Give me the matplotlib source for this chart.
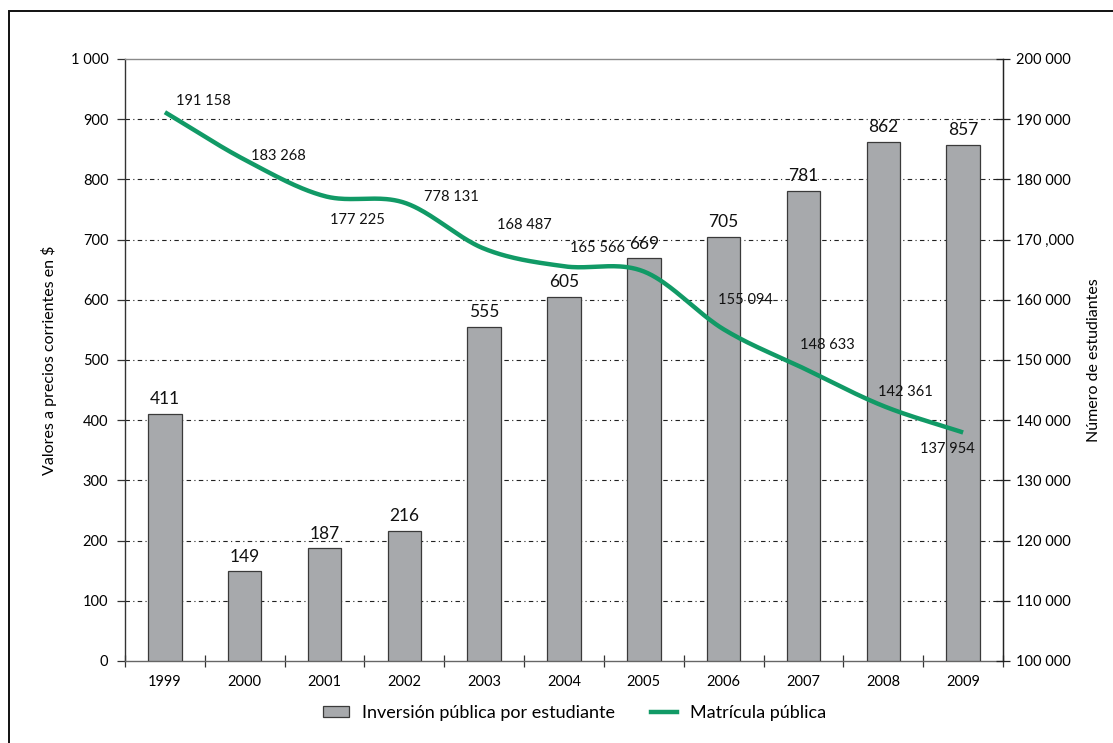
import numpy as np
import matplotlib
matplotlib.use("Agg")
import matplotlib.pyplot as plt
from matplotlib.patches import Rectangle
from matplotlib.lines import Line2D

plt.rcParams['font.family'] = ['Lato', 'DejaVu Sans']

# --- data -------------------------------------------------------------
years = ['1999', '2000', '2001', '2002', '2003', '2004',
         '2005', '2006', '2007', '2008', '2009']
inversion = [411, 149, 187, 216, 555, 605, 669, 705, 781, 862, 857]
matricula = [191158, 183268, 177225, 176131, 168487, 165566,
             164700, 155094, 148633, 142361, 137954]
# printed labels for the enrolment line (2005 carries none)
matricula_labels = ['191 158', '183 268', '177 225', '778 131', '168 487',
                    '165 566', '', '155 094', '148 633', '142 361', '137 954']
left_ticks = [0, 100, 200, 300, 400, 500, 600, 700, 800, 900, 1000]
left_ticklabels = ['0', '100', '200', '300', '400', '500', '600', '700',
                   '800', '900', '1 000']
right_ticks = [100000, 110000, 120000, 130000, 140000, 150000,
               160000, 170000, 180000, 190000, 200000]
right_ticklabels = ['100 000', '110 000', '120 000', '130 000', '140 000',
                    '150 000', '160 000', '170 ,000', '180 000', '190 000',
                    '200 000']

# label offsets (points) for the enrolment labels
label_offsets = [(28, 8), (24, 3), (24, -17), (34, 4), (29, 17), (24, 13),
                 (0, 0), (16, 21), (17, 17), (16, 10), (-11, -12)]

BAR_COLOR = '#a7a9ac'
LINE_COLOR = '#119a66'


def catmull_rom(x, y, n=40):
    """Smooth curve through the given points (uniform Catmull-Rom)."""
    x = np.asarray(x, float)
    y = np.asarray(y, float)
    px = np.concatenate([[2 * x[0] - x[1]], x, [2 * x[-1] - x[-2]]])
    py = np.concatenate([[2 * y[0] - y[1]], y, [2 * y[-1] - y[-2]]])
    xs, ys = [], []
    t = np.linspace(0, 1, n, endpoint=False)
    for i in range(1, len(px) - 2):
        for p, out in ((px, xs), (py, ys)):
            p0, p1, p2, p3 = p[i - 1], p[i], p[i + 1], p[i + 2]
            out.append(0.5 * ((2 * p1) + (-p0 + p2) * t
                              + (2 * p0 - 5 * p1 + 4 * p2 - p3) * t ** 2
                              + (-p0 + 3 * p1 - 3 * p2 + p3) * t ** 3))
    xs.append([x[-1]])
    ys.append([y[-1]])
    return np.concatenate(xs), np.concatenate(ys)


fig = plt.figure(figsize=(11.13, 7.43), dpi=100)
ax = fig.add_axes([0.1123, 0.1104, 0.7889, 0.8102])
ax2 = ax.twinx()

xpos = np.arange(len(years))
ax.bar(xpos, inversion, width=0.42, color=BAR_COLOR, edgecolor='#3a3a3a',
       linewidth=0.9, zorder=3)
for xi, v in zip(xpos, inversion):
    ax.annotate(f'{v}', (xi, v), xytext=(0, 7), textcoords='offset points',
                ha='center', va='baseline', fontsize=12.5,
                color='#111111', zorder=5)

ax.set_xlim(-0.5, len(years) - 0.5)
ax.set_ylim(0, 1000)
ax.set_yticks(left_ticks)
ax.set_yticklabels(left_ticklabels, fontsize=10.5)
ax.set_xticks(xpos)
ax.set_xticklabels(years, fontsize=10.5)
ax.tick_params(axis='x', length=0, pad=10)
ax.set_xticks(np.arange(-0.5, len(years), 1.0), minor=True)
ax.tick_params(axis='x', which='minor', direction='inout', length=9,
               width=0.9, color='#333333')
ax.tick_params(axis='y', direction='out', length=6, width=0.9,
               color='#333333', pad=6)
for yv in left_ticks[1:-1]:
    ax.axhline(yv, color='#222222', linewidth=0.8,
               linestyle=(0, (4, 3, 1, 3)), zorder=1)
ax.set_ylabel('Valores a precios corrientes en $', fontsize=11.5,
              labelpad=10)

ax.spines['top'].set_color('#8a8a8a')
ax.spines['bottom'].set_color('#666666')
ax.spines['left'].set_color('#333333')
ax.spines['right'].set_color('#222222')
for s in ax.spines.values():
    s.set_linewidth(1.0)

# enrolment line on the right axis
sx, sy = catmull_rom(xpos, matricula)
ax2.plot(sx, sy, color=LINE_COLOR, linewidth=3.2, zorder=4,
         solid_capstyle='butt')
ax2.set_ylim(100000, 200000)
ax2.set_yticks(right_ticks)
ax2.set_yticklabels(right_ticklabels, fontsize=10.5)
ax2.tick_params(axis='y', direction='inout', length=10, width=0.9,
                color='#222222', pad=4)
ax2.set_ylabel('Número de estudiantes', fontsize=11.5, labelpad=10)
for s in ax2.spines.values():
    s.set_visible(False)
ax2.spines['right'].set_visible(True)
ax2.spines['right'].set_color('#222222')

for xi, v, lab, off in zip(xpos, matricula, matricula_labels, label_offsets):
    if lab:
        ax2.annotate(lab, (xi, v), xytext=off, textcoords='offset points',
                     ha='center', va='center', fontsize=10.5,
                     color='#111111', zorder=6)

# legend
handles = [Rectangle((0, 0), 1, 1, facecolor=BAR_COLOR, edgecolor='#3a3a3a',
                     linewidth=0.9),
           Line2D([0], [0], color=LINE_COLOR, linewidth=3.2)]
fig.legend(handles, ['Inversión pública por estudiante', 'Matrícula pública'],
           loc='center', bbox_to_anchor=(0.516, 0.04), ncol=2, frameon=False,
           fontsize=13, handlelength=1.45, handleheight=0.55,
           columnspacing=2.0, handletextpad=0.7)

# outer frame
fig.patches.append(Rectangle((9 / 1113, -0.05), 1.2, (743 - 11) / 743 + 0.05,
                             transform=fig.transFigure, fill=False,
                             edgecolor='#111111', linewidth=1.4))

fig.savefig('out.png', dpi=100)
